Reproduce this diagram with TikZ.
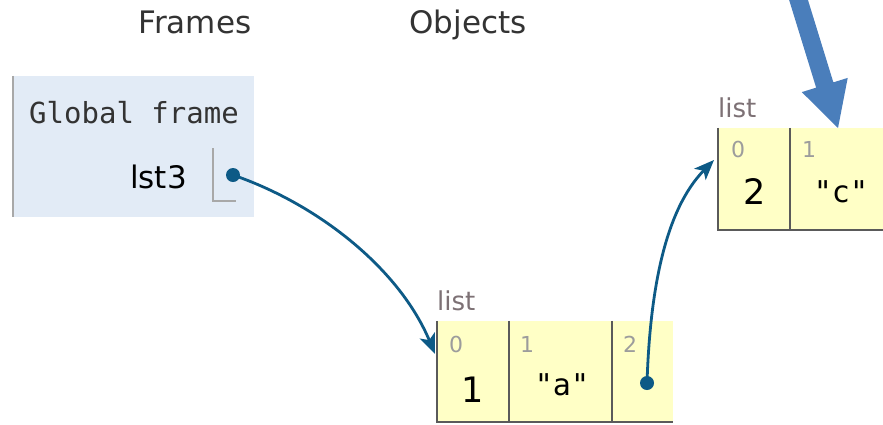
\documentclass[tikz,border=0pt]{standalone}
\usepackage{fontspec}
\setmainfont{DejaVu Sans}
\newfontfamily\monof{DejaVu Sans Mono}
\usetikzlibrary{arrows.meta}
\definecolor{framebg}{HTML}{E2EBF6}
\definecolor{frameedge}{HTML}{A8A8A8}
\definecolor{cellbg}{HTML}{FFFFC6}
\definecolor{celledge}{HTML}{5A5A5A}
\definecolor{ptrblue}{HTML}{0D5A86}
\definecolor{idxgray}{HTML}{9C9C9C}
\definecolor{typegray}{HTML}{7D7175}
\definecolor{bigblue}{HTML}{4A7EBB}
\definecolor{headtxt}{HTML}{333333}
\tikzset{
  cell/.style={fill=cellbg, draw=none, inner sep=0pt},
  celledges/.style={draw=celledge, line width=1.8pt},
  heading/.style={inner sep=0pt, anchor=base, text=headtxt, font=\fontsize{31}{31}\selectfont},
  idx/.style={inner sep=0pt, anchor=base, text=idxgray, font=\fontsize{22}{22}\selectfont},
  typelabel/.style={inner sep=0pt, anchor=base west, text=typegray, font=\fontsize{26}{26}\selectfont},
  numval/.style={inner sep=0pt, anchor=base, text=black, font=\fontsize{35}{35}\selectfont},
  strval/.style={inner sep=0pt, anchor=base, text=black, font=\monof\fontsize{30}{30}\selectfont},
  ptr/.style={draw=ptrblue, line width=2.8pt, -{Stealth[length=20pt,width=16pt,inset=5pt]}},
  ptrdot/.style={circle, fill=ptrblue, inner sep=0pt, minimum size=14pt}
}
\begin{document}
\begin{tikzpicture}[x=1pt,y=-1pt]
\useasboundingbox (0,0) rectangle (883,424);
\fill[white] (0,0) rectangle (883,424);
% headings
\node[heading] (hframes) at (195,33) {Frames};
\node[heading] (hobjects) at (468,33) {Objects};
% global frame
\node[fill=framebg, inner sep=0pt, minimum width=241pt, minimum height=141pt] (frame) at (133.5,146.5) {};
\draw[draw=frameedge, line width=2pt] (frame.north west) -- (frame.south west);
\node[inner sep=0pt, anchor=base, text=headtxt, font=\monof\fontsize{29}{29}\selectfont] (gname) at (134,123) {Global frame};
\node[inner sep=0pt, anchor=base east, font=\fontsize{31}{31}\selectfont] (lst3) at (187,188) {lst3};
\coordinate (brtop) at (213,148);
\coordinate (brcorner) at (213,201);
\coordinate (brend) at (236,201);
\draw[draw=frameedge, line width=1.5pt] (brtop) -- (brcorner) -- (brend);
\node[ptrdot] (dot1) at (233,175) {};
% list 1
\node[typelabel] (type1) at (437,310) {list};
\node[cell, minimum width=72pt, minimum height=101pt] (c10) at (473,371.5) {};
\node[cell, minimum width=103pt, minimum height=101pt] (c11) at (560.5,371.5) {};
\node[cell, minimum width=61pt, minimum height=101pt] (c12) at (642.5,371.5) {};
\draw[celledges] (c10.north west) -- (c10.south west) -- (c12.south east);
\draw[celledges] (c11.north west) -- (c11.south west);
\draw[celledges] (c12.north west) -- (c12.south west);
\node[idx] (i10) at (456,352) {0};
\node[idx] (i11) at (527,352) {1};
\node[idx] (i12) at (630,352) {2};
\node[numval] (v10) at (473,402) {1};
\node[strval] (v11) at (562,395) {"a"};
\node[ptrdot] (dot2) at (647,383) {};
% list 2
\node[typelabel] (type2) at (718,117) {list};
\node[cell, minimum width=72pt, minimum height=102pt] (c20) at (754,179) {};
\node[cell, minimum width=110pt, minimum height=102pt] (c21) at (845,179) {};
\draw[celledges] (c20.north west) -- (c20.south west) -- (c21.south east);
\draw[celledges] (c21.north west) -- (c21.south west);
\node[idx] (i20) at (738,157) {0};
\node[idx] (i21) at (809,157) {1};
\node[numval] (v20) at (755,204) {2};
\node[strval] (v21) at (841,202) {"c"};
% pointers
\coordinate (tip1) at (435,354);
\coordinate (tip2) at (714,160);
\draw[ptr] (dot1.center) .. controls (320,205) and (400,270) .. (tip1);
\draw[ptr] (dot2.center) .. controls (650,290) and (665,210) .. (tip2);
% big blue arrow
\coordinate (bigtip) at (838,128);
\fill[bigblue] (805.6,-7.65) -- (833.35,82.35) -- (847.7,77.9) -- (bigtip) -- (801.8,92.1) -- (816.15,87.65) -- (788.4,-2.35) -- cycle;
\end{tikzpicture}
\end{document}
